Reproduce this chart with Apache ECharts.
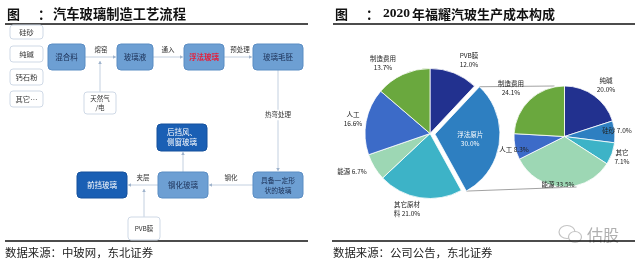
<!DOCTYPE html>
<html><head><meta charset="utf-8">
<script src="https://cdn.jsdelivr.net/npm/echarts@6/dist/echarts.min.js"></script>
<style>html,body{margin:0;padding:0;background:#fff}#c{width:640px;height:263px}</style>
</head><body><div id="c"></div>
<script>
// ---------------- data ----------------
const leftTitle = '汽车玻璃制造工艺流程';
const rightTitle = '年福耀汽玻生产成本构成';
const rightTitleYear = '2020';
const leftSource = '数据来源：中玻网，东北证券';
const rightSource = '数据来源：公司公告，东北证券';
const rawMaterials = ['硅砂', '纯碱', '钙石粉', '其它…'];
const flowNodes = ['混合料', '玻璃液', '浮法玻璃', '玻璃毛胚', '具备一定形\n状的玻璃', '钢化玻璃', '后挡风、\n侧窗玻璃', '前挡玻璃'];
const inputNodes = ['天然气\n/电', 'PVB膜'];
const flowSteps = ['熔窑', '通入', '预处理', '热弯处理', '钢化', '夹层'];
const bigCats = ['PVB膜', '浮法原片', '其它原材料', '能源', '人工', '制造费用'];
const bigVals = [12.0, 30.0, 21.0, 6.7, 16.6, 13.7];
const smallCats = ['纯碱', '硅砂', '其它', '能源', '人工', '制造费用'];
const smallVals = [20.0, 7.0, 7.1, 33.5, 8.3, 24.1];
const watermark = '估股';

// ---------------- layout / style ----------------
const FONT = '"Noto Sans CJK SC", "Noto Sans", sans-serif';
const colorMap = {
  'PVB膜': '#22318f', '纯碱': '#22318f',
  '浮法原片': '#2e7fc1', '硅砂': '#2e7fc1',
  '其它原材料': '#3db3c7', '其它': '#3db3c7',
  '能源': '#9dd7b4',
  '人工': '#3c6bc8',
  '制造费用': '#6aa83e'
};
const rawBoxes = [[10, 25, 33, 14], [10, 46, 33, 16], [10, 69, 33, 16], [10, 91, 33, 16]];
const flowBoxes = [[48, 44, 37, 26], [117, 44, 36, 26], [184, 44, 40, 26], [253, 44, 50, 26],
  [253, 172, 50, 26], [158, 172, 50, 26], [157, 124, 50, 27], [77, 172, 50, 26]];
const inputBoxes = [[84, 92, 32, 22], [128, 217, 32, 23]];
// edges: [x1,y1,x2,y2, labelIndex or -1, lx, ly]
const edges = [
  [85, 57, 116, 57, 0, 101, 50],
  [153, 57, 183, 57, 1, 168, 50],
  [224, 57, 252, 57, 2, 240, 50],
  [278, 70, 278, 171, 3, 278, 115],
  [253, 185, 209, 185, 4, 231, 178],
  [183, 172, 183, 152, -1],
  [158, 185, 128, 185, 5, 143, 178],
  [100, 92, 100, 61, -1],
  [144, 217, 144, 189, -1]
];
const bigCenter = [430, 133.5], bigR = 65, explode = 5;
const smallCenter = [564.5, 136.5], smallR = 50.5;
const bigLabelPos = [[469, 60], [457, 138], [407, 209], [352, 172], [353, 119], [383, 63]];
const smallLabelPos = [[606, 85], [617, 131], [622, 157], [558, 185], [514, 150], [511, 88]];
const bigLabelBreak = ['\n', '\n', 'wrap', ' ', '\n', '\n'];
const smallLabelBreak = ['\n', ' ', '\n', ' ', ' ', '\n'];

const g = [];
function text(t, x, y, size, color, opts) {
  opts = opts || {};
  g.push({
    type: 'text', z: opts.z || 10, silent: true,
    style: {
      text: t, x: x, y: y, fill: color, fontSize: size, fontFamily: opts.family || FONT,
      fontWeight: opts.weight || 'normal', align: opts.align || 'center', verticalAlign: 'middle',
      textAlign: opts.align || 'center', textVerticalAlign: 'middle', lineHeight: opts.lh || size + 2,
      backgroundColor: opts.bg, padding: opts.bg ? [1, 1] : 0
    }
  });
}
function rect(b, fill, stroke, r, z) {
  g.push({ type: 'rect', z: z || 5, silent: true, shape: { x: b[0], y: b[1], width: b[2], height: b[3], r: r },
    style: { fill: fill, stroke: stroke, lineWidth: 1 } });
}
function line(x1, y1, x2, y2, color, w, z) {
  g.push({ type: 'line', z: z || 4, silent: true, shape: { x1: x1, y1: y1, x2: x2, y2: y2 },
    style: { stroke: color, lineWidth: w } });
}
function arrowHead(x1, y1, x2, y2, color) {
  const a = Math.atan2(y2 - y1, x2 - x1), s = 3;
  const p1 = [x2 - s * Math.cos(a) + s * 0.6 * Math.sin(a), y2 - s * Math.sin(a) - s * 0.6 * Math.cos(a)];
  const p2 = [x2 - s * Math.cos(a) - s * 0.6 * Math.sin(a), y2 - s * Math.sin(a) + s * 0.6 * Math.cos(a)];
  g.push({ type: 'polygon', z: 6, silent: true, shape: { points: [[x2, y2], p1, p2] }, style: { fill: color } });
}

// titles, rules, sources
text('图', 7, 14, 13, '#111', { weight: 'bold', align: 'left' });
text('：', 38, 14, 13, '#111', { weight: 'bold', align: 'left' });
text(leftTitle, 53, 14, 13.3, '#111', { weight: 'bold', align: 'left' });
text('图', 335, 14, 13, '#111', { weight: 'bold', align: 'left' });
text('：', 366, 14, 13, '#111', { weight: 'bold', align: 'left' });
text(rightTitleYear, 383, 14, 13.5, '#111', { weight: 'bold', align: 'left', family: '"Liberation Serif", serif' });
text(rightTitle, 412, 14, 13, '#111', { weight: 'bold', align: 'left' });
line(5, 24, 308, 24, '#111', 1.4, 3);
line(333, 24, 635, 24, '#111', 1.4, 3);
line(5, 241, 308, 241, '#111', 1.4, 3);
line(332, 241, 635, 241, '#111', 1.4, 3);
text(leftSource, 5, 253, 11.4, '#222', { align: 'left' });
text(rightSource, 333, 253, 11.4, '#222', { align: 'left' });

// flowchart
rawMaterials.forEach((t, i) => {
  rect(rawBoxes[i], '#fff', '#cfd9e6', 3);
  text(t, rawBoxes[i][0] + rawBoxes[i][2] / 2, rawBoxes[i][1] + rawBoxes[i][3] / 2, 7.3, '#333');
});
inputNodes.forEach((t, i) => {
  const b = inputBoxes[i];
  rect(b, '#fff', '#cfd9e6', 3);
  text(t, b[0] + b[2] / 2, b[1] + b[3] / 2, 6.5, '#333', { lh: 8.5 });
});
flowNodes.forEach((t, i) => {
  const b = flowBoxes[i];
  const dark = i >= 6;
  rect(b, dark ? '#1a5fb4' : '#6d9fd3', dark ? '#15519c' : '#5b8dc3', 4);
  const col = dark ? '#fff' : (i === 2 ? '#e3213d' : '#1b2f55');
  text(t, b[0] + b[2] / 2, b[1] + b[3] / 2, i === 4 ? 6.8 : 7.5, col, { lh: 10, weight: i === 2 ? 'bold' : 'normal' });
});
const edgeColor = '#c3d0e0';
edges.forEach(e => {
  line(e[0], e[1], e[2], e[3], edgeColor, 1);
  arrowHead(e[0], e[1], e[2], e[3], '#9fb3cc');
  if (e[4] >= 0) text(flowSteps[e[4]], e[5], e[6], 6.5, '#333', e[4] === 3 ? { bg: '#fff', z: 12 } : {});
});

// pie-of-pie connector lines computed from data
const bigSum = bigVals.reduce((a, b) => a + b, 0);
const expIdx = bigCats.indexOf('浮法原片');
const startFrac = bigVals.slice(0, expIdx).reduce((a, b) => a + b, 0) / bigSum;
const endFrac = startFrac + bigVals[expIdx] / bigSum;
const midA = (startFrac + endFrac) * Math.PI;
const ox = bigCenter[0] + explode * Math.sin(midA), oy = bigCenter[1] - explode * Math.cos(midA);
const sA = startFrac * 2 * Math.PI, eA = endFrac * 2 * Math.PI;
line(ox + bigR * Math.sin(sA), oy - bigR * Math.cos(sA), smallCenter[0] - 10, smallCenter[1] - smallR, '#8a8a8a', 0.8, 1);
line(ox + bigR * Math.sin(eA), oy - bigR * Math.cos(eA), smallCenter[0] + 12, smallCenter[1] + smallR, '#8a8a8a', 0.8, 1);

// watermark
g.push({ type: 'ellipse', z: 2, silent: true, shape: { cx: 567, cy: 232, rx: 8, ry: 6.5 }, style: { fill: 'none', stroke: '#c4c4c4', lineWidth: 1.2 } });
g.push({ type: 'ellipse', z: 2, silent: true, shape: { cx: 575, cy: 237, rx: 6.5, ry: 5.5 }, style: { fill: '#fff', stroke: '#c4c4c4', lineWidth: 1.2 } });
text(watermark, 587, 235, 16, '#b0b0b0', { align: 'left', z: 2 });

function fmtLabel(breaks) {
  return p => {
    const v = p.value.toFixed(1) + '%';
    const b = breaks[p.dataIndex];
    if (b === 'wrap') return p.name.slice(0, 4) + '\n' + p.name.slice(4) + ' ' + v;
    return p.name + b + v;
  };
}
function pieData(cats, vals, selName) {
  return cats.map((n, i) => {
    const d = { name: n, value: vals[i], itemStyle: { color: colorMap[n] } };
    if (n === selName) { d.selected = true; d.label = { color: '#fff', position: 'inside' }; }
    return d;
  });
}
const labelBase = { show: true, position: 'outside', fontSize: 6.5, color: '#222', lineHeight: 9, fontFamily: FONT };

const chart = echarts.init(document.getElementById('c'), null, { renderer: 'canvas' });
chart.setOption({
  animation: false,
  graphic: { elements: g },
  series: [
    {
      type: 'pie', center: bigCenter, radius: bigR, startAngle: 90, clockwise: true,
      selectedMode: 'single', selectedOffset: explode, avoidLabelOverlap: false, silent: true, z: 3,
      itemStyle: { borderColor: '#fff', borderWidth: 0.8 },
      select: { itemStyle: { borderColor: '#fff', borderWidth: 0.8 } },
      emphasis: { disabled: true },
      label: Object.assign({}, labelBase, { formatter: fmtLabel(bigLabelBreak) }),
      labelLine: { show: false },
      labelLayout: p => ({ x: bigLabelPos[p.dataIndex][0], y: bigLabelPos[p.dataIndex][1], align: 'center', verticalAlign: 'middle' }),
      data: pieData(bigCats, bigVals, '浮法原片')
    },
    {
      type: 'pie', center: smallCenter, radius: smallR, startAngle: 90, clockwise: true,
      avoidLabelOverlap: false, silent: true, z: 3,
      itemStyle: { borderColor: '#fff', borderWidth: 0.8 },
      emphasis: { disabled: true },
      label: Object.assign({}, labelBase, { formatter: fmtLabel(smallLabelBreak) }),
      labelLine: { show: false },
      labelLayout: p => ({ x: smallLabelPos[p.dataIndex][0], y: smallLabelPos[p.dataIndex][1], align: 'center', verticalAlign: 'middle' }),
      data: pieData(smallCats, smallVals, null)
    }
  ]
});
</script></body></html>
